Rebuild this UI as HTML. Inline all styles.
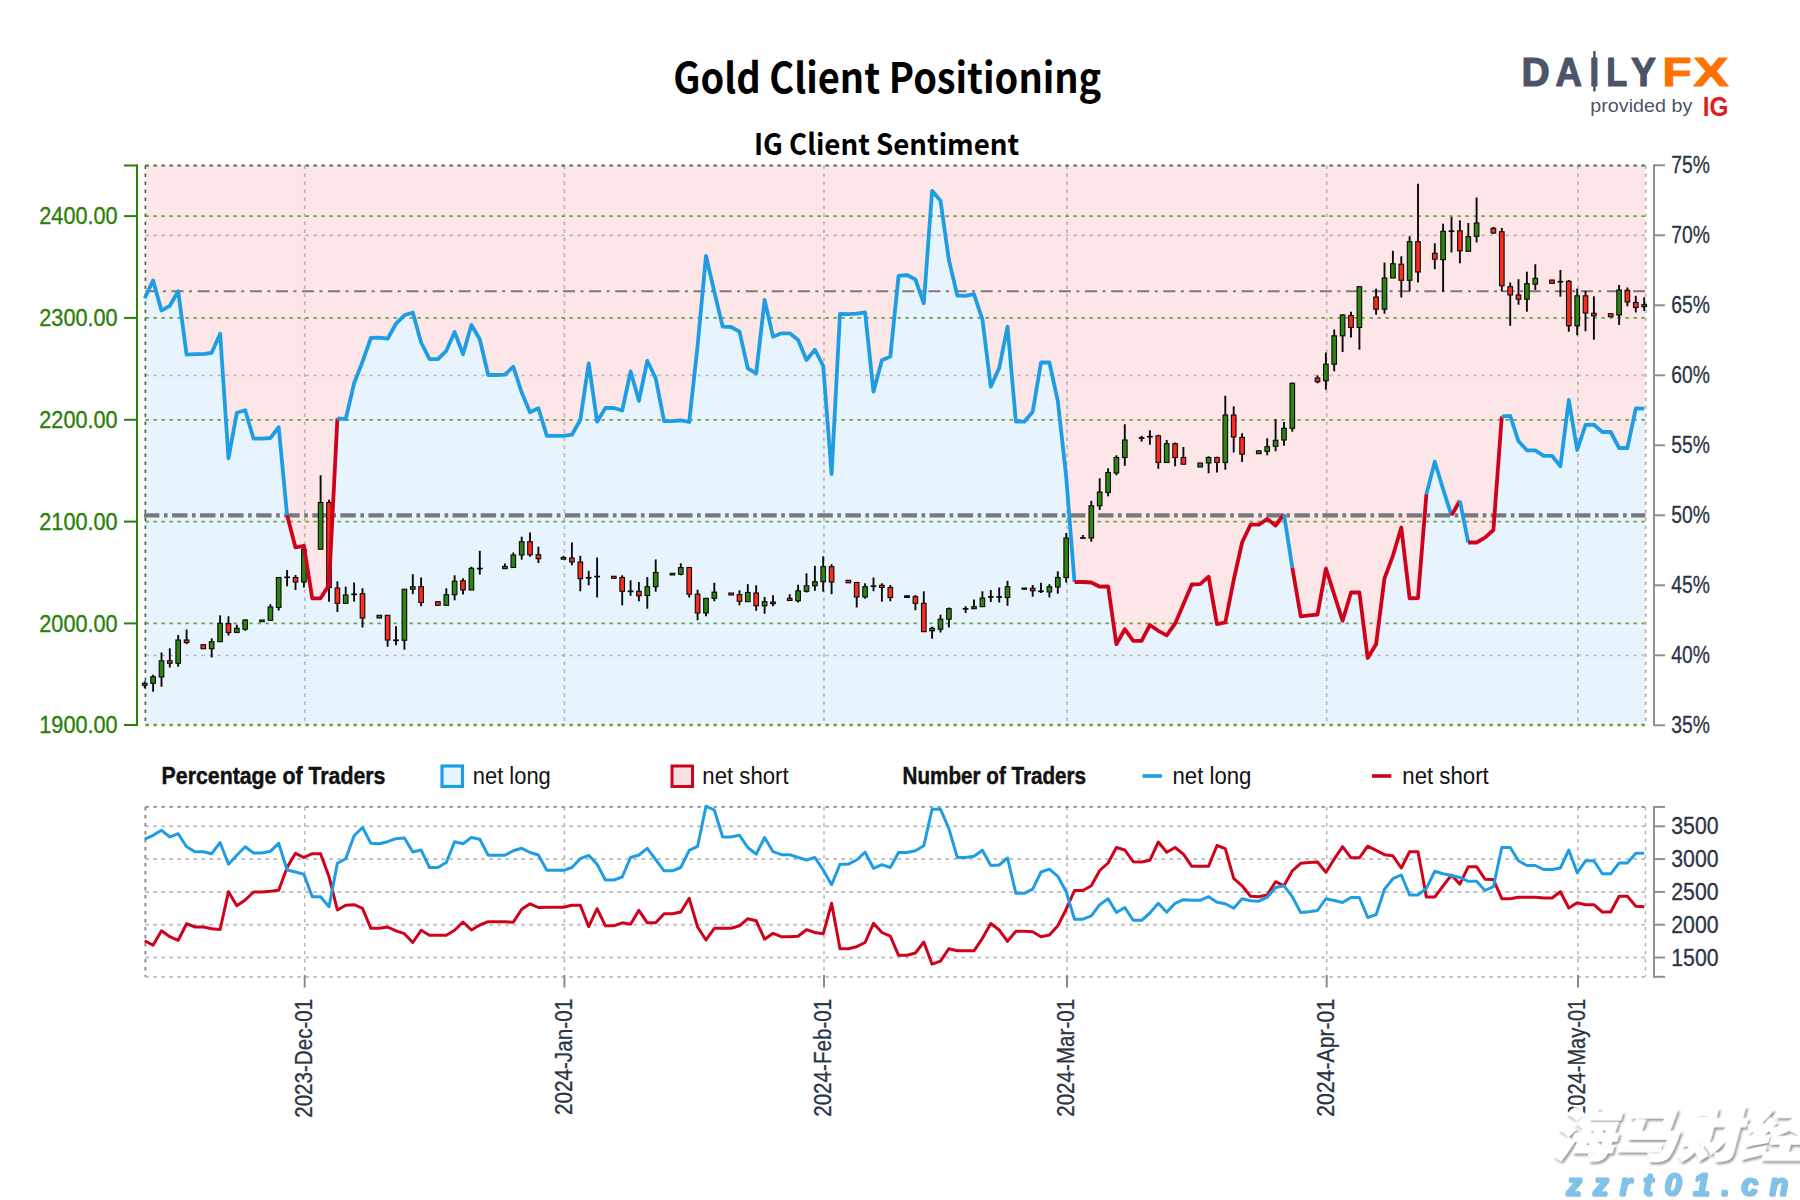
<!DOCTYPE html>
<html lang="en"><head><meta charset="utf-8"><title>Gold Client Positioning</title>
<style>html,body{margin:0;padding:0;background:#fff}body{width:1800px;height:1200px;overflow:hidden}svg{display:block}</style></head><body>
<svg width="1800" height="1200" viewBox="0 0 1800 1200">
<defs><filter id="ws" x="-5%" y="-10%" width="110%" height="125%"><feDropShadow dx="2.2" dy="2.2" stdDeviation="0.9" flood-color="#8a8a8a" flood-opacity="0.9"/></filter>
<filter id="ws2" x="-5%" y="-10%" width="110%" height="130%"><feDropShadow dx="1" dy="1.2" stdDeviation="0.5" flood-color="#7f9fb5" flood-opacity="0.8"/></filter>
<clipPath id="cp"><rect x="145.4" y="165.5" width="1500.0" height="559.5"/></clipPath></defs>
<rect width="1800" height="1200" fill="#fff"/>
<rect x="145.4" y="165.5" width="1499.4" height="559.5" fill="#fce6e7"/>
<polygon fill="#e8f4fd" points="145.4,725.0 145.4,298.3 144.7,298.3 153.1,280.5 161.5,310.5 169.8,305.8 178.2,291.3 186.6,354.7 195.0,354.2 203.3,354.2 211.7,352.8 220.1,333.7 228.5,458.3 236.8,412.8 245.2,410.3 253.6,438.7 262.0,438.7 270.4,438 278.7,427.2 287.1,515.3 295.5,547.5 303.9,545.8 312.2,598.3 320.6,598.3 329.0,585 337.4,418.3 345.7,419.2 354.1,383.3 362.5,361.7 370.9,338 379.3,337.7 387.6,338.7 396.0,323.7 404.4,315.3 412.8,312.5 421.1,342.5 429.5,359 437.9,359.2 446.3,350.8 454.6,332 463.0,354.2 471.4,325 479.8,339.2 488.2,375 496.5,375 504.9,374.7 513.3,366.7 521.7,392.5 530.0,412.2 538.4,408.3 546.8,435.8 555.2,435.8 563.5,435.8 571.9,434.7 580.3,420 588.7,363.3 597.1,421.7 605.4,408 613.8,408 622.2,410.5 630.6,371.3 638.9,400.8 647.3,360.8 655.7,378.3 664.1,421.2 672.5,421.2 680.8,420.3 689.2,422 697.6,345.8 706.0,255.8 714.3,291.7 722.7,326.7 731.1,327 739.5,331.7 747.8,368.3 756.2,373.3 764.6,300 773.0,336.7 781.4,333.3 789.7,333.3 798.1,340 806.5,360 814.9,349.7 823.2,366 831.6,474.2 840.0,313.8 848.4,314.2 856.7,313.7 865.1,312.5 873.5,391.7 881.9,360.2 890.3,356.5 898.6,275.8 907.0,275 915.4,279.5 923.8,303.3 932.1,190.8 940.5,200.8 948.9,260 957.3,295.5 965.6,295.8 974.0,294.2 982.4,319.5 990.8,386.7 999.2,368 1007.5,326.7 1015.9,421.7 1024.3,421.7 1032.7,411.7 1041.0,362.5 1049.4,362.5 1057.8,400.8 1066.2,477 1074.5,582 1082.9,582 1091.3,582.5 1099.7,586.7 1108.1,586.3 1116.4,644.2 1124.8,629.2 1133.2,640.8 1141.6,640.8 1149.9,625 1158.3,630.8 1166.7,635.3 1175.1,623.7 1183.4,604.2 1191.8,584.5 1200.2,584.2 1208.6,576.7 1217.0,624.2 1225.3,622.5 1233.7,580 1242.1,542.5 1250.5,524.7 1258.8,524.7 1267.2,519 1275.6,525.5 1284.0,514.2 1292.3,567.5 1300.7,616.3 1309.1,615.3 1317.5,614.7 1325.9,568.7 1334.2,594.5 1342.6,620.8 1351.0,592.5 1359.4,592.5 1367.7,658 1376.1,644.2 1384.5,578.3 1392.9,555.8 1401.3,527.5 1409.6,598.3 1418.0,598 1426.4,494.2 1434.8,461.7 1443.1,489.2 1451.5,515.4 1459.9,500.8 1468.3,542.5 1476.6,542.5 1485.0,537.7 1493.4,530 1501.8,416.3 1510.2,415.8 1518.5,441.3 1526.9,450.3 1535.3,450.3 1543.7,455.8 1552.0,455.8 1560.4,466.3 1568.8,400 1577.2,450 1585.5,425 1593.9,424.7 1602.3,432 1610.7,432 1619.1,448 1627.4,448 1635.8,408.3 1644.2,408.7 1644.2,725.0"/>
<line x1="304.7" y1="165.5" x2="304.7" y2="725.0" stroke="#8c8487" stroke-width="1.7" stroke-dasharray="3.5 4.5" opacity="0.55"/>
<line x1="564.4" y1="165.5" x2="564.4" y2="725.0" stroke="#8c8487" stroke-width="1.7" stroke-dasharray="3.5 4.5" opacity="0.55"/>
<line x1="824.0" y1="165.5" x2="824.0" y2="725.0" stroke="#8c8487" stroke-width="1.7" stroke-dasharray="3.5 4.5" opacity="0.55"/>
<line x1="1067.0" y1="165.5" x2="1067.0" y2="725.0" stroke="#8c8487" stroke-width="1.7" stroke-dasharray="3.5 4.5" opacity="0.55"/>
<line x1="1326.7" y1="165.5" x2="1326.7" y2="725.0" stroke="#8c8487" stroke-width="1.7" stroke-dasharray="3.5 4.5" opacity="0.55"/>
<line x1="1578.0" y1="165.5" x2="1578.0" y2="725.0" stroke="#8c8487" stroke-width="1.7" stroke-dasharray="3.5 4.5" opacity="0.55"/>
<line x1="145.4" y1="655.3" x2="1645.4" y2="655.3" stroke="#9a9295" stroke-width="1.8" stroke-dasharray="3.5 4.5" opacity="0.55"/>
<line x1="145.4" y1="375.29999999999995" x2="1645.4" y2="375.29999999999995" stroke="#9a9295" stroke-width="1.8" stroke-dasharray="3.5 4.5" opacity="0.55"/>
<line x1="145.4" y1="235.29999999999995" x2="1645.4" y2="235.29999999999995" stroke="#9a9295" stroke-width="1.8" stroke-dasharray="3.5 4.5" opacity="0.55"/>
<line x1="145.4" y1="216.1" x2="1645.4" y2="216.1" stroke="#5f9a38" stroke-width="1.8" stroke-dasharray="3.5 4.5" opacity="0.9"/>
<line x1="145.4" y1="317.9" x2="1645.4" y2="317.9" stroke="#5f9a38" stroke-width="1.8" stroke-dasharray="3.5 4.5" opacity="0.9"/>
<line x1="145.4" y1="419.8" x2="1645.4" y2="419.8" stroke="#5f9a38" stroke-width="1.8" stroke-dasharray="3.5 4.5" opacity="0.9"/>
<line x1="145.4" y1="521.6" x2="1645.4" y2="521.6" stroke="#5f9a38" stroke-width="1.8" stroke-dasharray="3.5 4.5" opacity="0.9"/>
<line x1="145.4" y1="623.4" x2="1645.4" y2="623.4" stroke="#5f9a38" stroke-width="1.8" stroke-dasharray="3.5 4.5" opacity="0.9"/>
<line x1="145.4" y1="725.0" x2="1645.4" y2="725.0" stroke="#5f9a38" stroke-width="2.3" stroke-dasharray="3.5 4.5" opacity="0.95"/>
<line x1="1645.7" y1="165.5" x2="1645.7" y2="725.0" stroke="#b5adaf" stroke-width="2" stroke-dasharray="3.5 4.5" opacity="0.85"/>
<line x1="145.4" y1="165.5" x2="1645.4" y2="165.5" stroke="#47752b" stroke-width="2" stroke-dasharray="3.5 4.5" opacity="1"/>
<line x1="145.4" y1="165.5" x2="145.4" y2="725.0" stroke="#4a6b3e" stroke-width="1.7" stroke-dasharray="3.5 4.5" opacity="1"/>
<line x1="145.4" y1="291.3" x2="1645.4" y2="291.3" stroke="#81777a" stroke-width="2" stroke-dasharray="12 5.5 3 5.6"/>
<line x1="143.9" y1="515.3" x2="1645.4" y2="515.3" stroke="#6f7173" stroke-width="4.2" stroke-dasharray="15.5 4.5 3.7 4.36" opacity="0.93"/>
<g stroke="#0a0a0a">
<line x1="144.7" y1="681.3" x2="144.7" y2="688.3" stroke-width="1.9"/>
<rect x="142.4" y="683.3" width="4.6" height="2.0" fill="#2b8510" stroke-width="1.1"/>
<line x1="153.1" y1="674.7" x2="153.1" y2="691.7" stroke-width="1.9"/>
<rect x="150.8" y="676.7" width="4.6" height="6.6" fill="#2b8510" stroke-width="1.1"/>
<line x1="161.5" y1="652.5" x2="161.5" y2="686.7" stroke-width="1.9"/>
<rect x="159.2" y="660.8" width="4.6" height="16.2" fill="#2b8510" stroke-width="1.1"/>
<line x1="169.8" y1="648.3" x2="169.8" y2="667.5" stroke-width="1.9"/>
<rect x="167.5" y="660.8" width="4.6" height="2.5" fill="#ff2a1c" stroke-width="1.1"/>
<line x1="178.2" y1="635" x2="178.2" y2="666.7" stroke-width="1.9"/>
<rect x="175.9" y="640" width="4.6" height="23.3" fill="#2b8510" stroke-width="1.1"/>
<line x1="186.6" y1="629.5" x2="186.6" y2="644.2" stroke-width="1.9"/>
<rect x="184.3" y="640" width="4.6" height="2.5" fill="#ff2a1c" stroke-width="1.1"/>
<line x1="203.3" y1="644.7" x2="203.3" y2="648.7" stroke-width="1.9"/>
<rect x="201.0" y="644.7" width="4.6" height="4.0" fill="#ff2a1c" stroke-width="1.1"/>
<line x1="211.7" y1="638.3" x2="211.7" y2="657.5" stroke-width="1.9"/>
<rect x="209.4" y="641.7" width="4.6" height="7.0" fill="#2b8510" stroke-width="1.1"/>
<line x1="220.1" y1="615.3" x2="220.1" y2="641.7" stroke-width="1.9"/>
<rect x="217.8" y="623.3" width="4.6" height="18.4" fill="#2b8510" stroke-width="1.1"/>
<line x1="228.5" y1="616.3" x2="228.5" y2="635.5" stroke-width="1.9"/>
<rect x="226.2" y="623.7" width="4.6" height="8.8" fill="#ff2a1c" stroke-width="1.1"/>
<line x1="236.8" y1="624.7" x2="236.8" y2="632.5" stroke-width="1.9"/>
<rect x="234.5" y="628.3" width="4.6" height="4.2" fill="#2b8510" stroke-width="1.1"/>
<line x1="245.2" y1="619.2" x2="245.2" y2="630.8" stroke-width="1.9"/>
<rect x="242.9" y="620" width="4.6" height="9.2" fill="#2b8510" stroke-width="1.1"/>
<line x1="262.0" y1="620" x2="262.0" y2="621.7" stroke-width="1.9"/>
<rect x="259.7" y="620" width="4.6" height="1.7" fill="#2b8510" stroke-width="1.1"/>
<line x1="270.4" y1="604.2" x2="270.4" y2="620.3" stroke-width="1.9"/>
<rect x="268.1" y="607" width="4.6" height="13.3" fill="#2b8510" stroke-width="1.1"/>
<line x1="278.7" y1="577.5" x2="278.7" y2="610.5" stroke-width="1.9"/>
<rect x="276.4" y="577.5" width="4.6" height="30.0" fill="#2b8510" stroke-width="1.1"/>
<line x1="287.1" y1="570" x2="287.1" y2="586.3" stroke-width="1.9"/>
<rect x="284.8" y="577" width="4.6" height="0.6" fill="#1a1a1a" stroke-width="1.1"/>
<line x1="295.5" y1="575" x2="295.5" y2="590" stroke-width="1.9"/>
<rect x="293.2" y="577.5" width="4.6" height="4.5" fill="#ff2a1c" stroke-width="1.1"/>
<line x1="303.9" y1="545" x2="303.9" y2="587.5" stroke-width="1.9"/>
<rect x="301.6" y="549.2" width="4.6" height="32.8" fill="#2b8510" stroke-width="1.1"/>
<line x1="320.6" y1="475.3" x2="320.6" y2="549.2" stroke-width="1.9"/>
<rect x="318.3" y="502.5" width="4.6" height="46.7" fill="#2b8510" stroke-width="1.1"/>
<line x1="329.0" y1="499.7" x2="329.0" y2="601.7" stroke-width="1.9"/>
<rect x="326.7" y="502.5" width="4.6" height="85.0" fill="#ff2a1c" stroke-width="1.1"/>
<line x1="337.4" y1="581.3" x2="337.4" y2="612" stroke-width="1.9"/>
<rect x="335.1" y="588" width="4.6" height="15.3" fill="#ff2a1c" stroke-width="1.1"/>
<line x1="345.7" y1="586.7" x2="345.7" y2="603.3" stroke-width="1.9"/>
<rect x="343.4" y="595" width="4.6" height="8.3" fill="#2b8510" stroke-width="1.1"/>
<line x1="354.1" y1="582.5" x2="354.1" y2="601.7" stroke-width="1.9"/>
<rect x="351.8" y="594" width="4.6" height="0.6" fill="#1a1a1a" stroke-width="1.1"/>
<line x1="362.5" y1="588.3" x2="362.5" y2="627.5" stroke-width="1.9"/>
<rect x="360.2" y="593.7" width="4.6" height="24.3" fill="#ff2a1c" stroke-width="1.1"/>
<line x1="379.3" y1="615.3" x2="379.3" y2="618" stroke-width="1.9"/>
<rect x="377.0" y="615.3" width="4.6" height="2.7" fill="#2b8510" stroke-width="1.1"/>
<line x1="387.6" y1="615.3" x2="387.6" y2="646.7" stroke-width="1.9"/>
<rect x="385.3" y="615.3" width="4.6" height="24.7" fill="#ff2a1c" stroke-width="1.1"/>
<line x1="396.0" y1="626.3" x2="396.0" y2="645.3" stroke-width="1.9"/>
<rect x="393.7" y="640" width="4.6" height="0.6" fill="#1a1a1a" stroke-width="1.1"/>
<line x1="404.4" y1="589.2" x2="404.4" y2="649.7" stroke-width="1.9"/>
<rect x="402.1" y="589.2" width="4.6" height="51.1" fill="#2b8510" stroke-width="1.1"/>
<line x1="412.8" y1="574.2" x2="412.8" y2="594.2" stroke-width="1.9"/>
<rect x="410.5" y="586.7" width="4.6" height="2.5" fill="#2b8510" stroke-width="1.1"/>
<line x1="421.1" y1="577.5" x2="421.1" y2="606.3" stroke-width="1.9"/>
<rect x="418.8" y="586.7" width="4.6" height="15.8" fill="#ff2a1c" stroke-width="1.1"/>
<line x1="437.9" y1="601.7" x2="437.9" y2="605.3" stroke-width="1.9"/>
<rect x="435.6" y="601.7" width="4.6" height="3.6" fill="#ff2a1c" stroke-width="1.1"/>
<line x1="446.3" y1="588.3" x2="446.3" y2="605.3" stroke-width="1.9"/>
<rect x="444.0" y="594.7" width="4.6" height="10.6" fill="#2b8510" stroke-width="1.1"/>
<line x1="454.6" y1="575.3" x2="454.6" y2="600.3" stroke-width="1.9"/>
<rect x="452.3" y="581.2" width="4.6" height="13.5" fill="#2b8510" stroke-width="1.1"/>
<line x1="463.0" y1="578.3" x2="463.0" y2="594.5" stroke-width="1.9"/>
<rect x="460.7" y="580.8" width="4.6" height="9.2" fill="#ff2a1c" stroke-width="1.1"/>
<line x1="471.4" y1="566.7" x2="471.4" y2="590" stroke-width="1.9"/>
<rect x="469.1" y="568.3" width="4.6" height="21.7" fill="#2b8510" stroke-width="1.1"/>
<line x1="479.8" y1="550.8" x2="479.8" y2="574.7" stroke-width="1.9"/>
<rect x="477.5" y="568.3" width="4.6" height="0.6" fill="#1a1a1a" stroke-width="1.1"/>
<line x1="504.9" y1="563.5" x2="504.9" y2="568.7" stroke-width="1.9"/>
<rect x="502.6" y="566.5" width="4.6" height="2.2" fill="#2b8510" stroke-width="1.1"/>
<line x1="513.3" y1="552.5" x2="513.3" y2="567.5" stroke-width="1.9"/>
<rect x="511.0" y="555" width="4.6" height="12.5" fill="#2b8510" stroke-width="1.1"/>
<line x1="521.7" y1="536.7" x2="521.7" y2="559.7" stroke-width="1.9"/>
<rect x="519.4" y="541.7" width="4.6" height="13.3" fill="#2b8510" stroke-width="1.1"/>
<line x1="530.0" y1="532.5" x2="530.0" y2="556.7" stroke-width="1.9"/>
<rect x="527.7" y="541.7" width="4.6" height="13.0" fill="#ff2a1c" stroke-width="1.1"/>
<line x1="538.4" y1="546.7" x2="538.4" y2="563" stroke-width="1.9"/>
<rect x="536.1" y="554.7" width="4.6" height="4.0" fill="#ff2a1c" stroke-width="1.1"/>
<line x1="563.5" y1="555.8" x2="563.5" y2="559.2" stroke-width="1.9"/>
<rect x="561.2" y="557.5" width="4.6" height="1.7" fill="#2b8510" stroke-width="1.1"/>
<line x1="571.9" y1="542.5" x2="571.9" y2="565.3" stroke-width="1.9"/>
<rect x="569.6" y="558" width="4.6" height="4" fill="#ff2a1c" stroke-width="1.1"/>
<line x1="580.3" y1="555.8" x2="580.3" y2="591.3" stroke-width="1.9"/>
<rect x="578.0" y="562" width="4.6" height="16.7" fill="#ff2a1c" stroke-width="1.1"/>
<line x1="588.7" y1="570.8" x2="588.7" y2="585.3" stroke-width="1.9"/>
<rect x="586.4" y="577.5" width="4.6" height="0.6" fill="#1a1a1a" stroke-width="1.1"/>
<line x1="597.1" y1="557.5" x2="597.1" y2="597.5" stroke-width="1.9"/>
<rect x="594.8" y="576.3" width="4.6" height="0.6" fill="#1a1a1a" stroke-width="1.1"/>
<line x1="613.8" y1="576.3" x2="613.8" y2="578.3" stroke-width="1.9"/>
<rect x="611.5" y="576.3" width="4.6" height="2.0" fill="#ff2a1c" stroke-width="1.1"/>
<line x1="622.2" y1="575.3" x2="622.2" y2="605.3" stroke-width="1.9"/>
<rect x="619.9" y="577.5" width="4.6" height="13.8" fill="#ff2a1c" stroke-width="1.1"/>
<line x1="630.6" y1="580.3" x2="630.6" y2="595.8" stroke-width="1.9"/>
<rect x="628.3" y="591" width="4.6" height="0.6" fill="#1a1a1a" stroke-width="1.1"/>
<line x1="638.9" y1="582" x2="638.9" y2="601.3" stroke-width="1.9"/>
<rect x="636.6" y="591.3" width="4.6" height="4.5" fill="#ff2a1c" stroke-width="1.1"/>
<line x1="647.3" y1="577" x2="647.3" y2="608.7" stroke-width="1.9"/>
<rect x="645.0" y="586.7" width="4.6" height="8.8" fill="#2b8510" stroke-width="1.1"/>
<line x1="655.7" y1="559.5" x2="655.7" y2="591.7" stroke-width="1.9"/>
<rect x="653.4" y="572.5" width="4.6" height="14.2" fill="#2b8510" stroke-width="1.1"/>
<line x1="672.5" y1="573.3" x2="672.5" y2="575" stroke-width="1.9"/>
<rect x="670.2" y="573.3" width="4.6" height="1.7" fill="#2b8510" stroke-width="1.1"/>
<line x1="680.8" y1="563.3" x2="680.8" y2="575.3" stroke-width="1.9"/>
<rect x="678.5" y="567.5" width="4.6" height="6.7" fill="#2b8510" stroke-width="1.1"/>
<line x1="689.2" y1="567.5" x2="689.2" y2="597.5" stroke-width="1.9"/>
<rect x="686.9" y="567.5" width="4.6" height="26.7" fill="#ff2a1c" stroke-width="1.1"/>
<line x1="697.6" y1="589.7" x2="697.6" y2="620.3" stroke-width="1.9"/>
<rect x="695.3" y="594.2" width="4.6" height="18.8" fill="#ff2a1c" stroke-width="1.1"/>
<line x1="706.0" y1="598.3" x2="706.0" y2="616.3" stroke-width="1.9"/>
<rect x="703.7" y="598.3" width="4.6" height="14.7" fill="#2b8510" stroke-width="1.1"/>
<line x1="714.3" y1="582.8" x2="714.3" y2="601.3" stroke-width="1.9"/>
<rect x="712.0" y="592.2" width="4.6" height="6.1" fill="#2b8510" stroke-width="1.1"/>
<line x1="731.1" y1="593" x2="731.1" y2="595" stroke-width="1.9"/>
<rect x="728.8" y="593" width="4.6" height="2" fill="#ff2a1c" stroke-width="1.1"/>
<line x1="739.5" y1="590.3" x2="739.5" y2="605.3" stroke-width="1.9"/>
<rect x="737.2" y="594.7" width="4.6" height="6.6" fill="#ff2a1c" stroke-width="1.1"/>
<line x1="747.8" y1="584.2" x2="747.8" y2="601.7" stroke-width="1.9"/>
<rect x="745.5" y="592.5" width="4.6" height="9.2" fill="#2b8510" stroke-width="1.1"/>
<line x1="756.2" y1="585.3" x2="756.2" y2="610.8" stroke-width="1.9"/>
<rect x="753.9" y="593" width="4.6" height="12.8" fill="#ff2a1c" stroke-width="1.1"/>
<line x1="764.6" y1="597" x2="764.6" y2="613.7" stroke-width="1.9"/>
<rect x="762.3" y="601.7" width="4.6" height="4.1" fill="#2b8510" stroke-width="1.1"/>
<line x1="773.0" y1="595.3" x2="773.0" y2="606.2" stroke-width="1.9"/>
<rect x="770.7" y="602" width="4.6" height="1.7" fill="#ff2a1c" stroke-width="1.1"/>
<line x1="789.7" y1="594.2" x2="789.7" y2="600.5" stroke-width="1.9"/>
<rect x="787.4" y="598.3" width="4.6" height="2.2" fill="#ff2a1c" stroke-width="1.1"/>
<line x1="798.1" y1="584.7" x2="798.1" y2="602.5" stroke-width="1.9"/>
<rect x="795.8" y="590.8" width="4.6" height="10.0" fill="#2b8510" stroke-width="1.1"/>
<line x1="806.5" y1="573.3" x2="806.5" y2="592.5" stroke-width="1.9"/>
<rect x="804.2" y="585.8" width="4.6" height="5.5" fill="#2b8510" stroke-width="1.1"/>
<line x1="814.9" y1="565.8" x2="814.9" y2="590.8" stroke-width="1.9"/>
<rect x="812.6" y="581.7" width="4.6" height="4.1" fill="#2b8510" stroke-width="1.1"/>
<line x1="823.2" y1="556.3" x2="823.2" y2="591.7" stroke-width="1.9"/>
<rect x="820.9" y="566.7" width="4.6" height="15.0" fill="#2b8510" stroke-width="1.1"/>
<line x1="831.6" y1="564.2" x2="831.6" y2="594.2" stroke-width="1.9"/>
<rect x="829.3" y="566.7" width="4.6" height="15.3" fill="#ff2a1c" stroke-width="1.1"/>
<line x1="848.4" y1="580.3" x2="848.4" y2="582.8" stroke-width="1.9"/>
<rect x="846.1" y="580.3" width="4.6" height="2.5" fill="#ff2a1c" stroke-width="1.1"/>
<line x1="856.7" y1="582.5" x2="856.7" y2="607.5" stroke-width="1.9"/>
<rect x="854.4" y="582.5" width="4.6" height="14.5" fill="#ff2a1c" stroke-width="1.1"/>
<line x1="865.1" y1="583.3" x2="865.1" y2="598.7" stroke-width="1.9"/>
<rect x="862.8" y="586.7" width="4.6" height="10.3" fill="#2b8510" stroke-width="1.1"/>
<line x1="873.5" y1="577.5" x2="873.5" y2="591.2" stroke-width="1.9"/>
<rect x="871.2" y="585.9" width="4.6" height="0.6" fill="#1a1a1a" stroke-width="1.1"/>
<line x1="881.9" y1="583.3" x2="881.9" y2="601.7" stroke-width="1.9"/>
<rect x="879.6" y="585.3" width="4.6" height="2.2" fill="#ff2a1c" stroke-width="1.1"/>
<line x1="890.3" y1="585" x2="890.3" y2="601.3" stroke-width="1.9"/>
<rect x="888.0" y="587.5" width="4.6" height="10.0" fill="#ff2a1c" stroke-width="1.1"/>
<line x1="907.0" y1="595.8" x2="907.0" y2="597.5" stroke-width="1.9"/>
<rect x="904.7" y="595.8" width="4.6" height="1.7" fill="#1a1a1a" stroke-width="1.1"/>
<line x1="915.4" y1="595" x2="915.4" y2="610.3" stroke-width="1.9"/>
<rect x="913.1" y="596.7" width="4.6" height="6.6" fill="#ff2a1c" stroke-width="1.1"/>
<line x1="923.8" y1="591.3" x2="923.8" y2="631.7" stroke-width="1.9"/>
<rect x="921.5" y="603.3" width="4.6" height="28.4" fill="#ff2a1c" stroke-width="1.1"/>
<line x1="932.1" y1="626.7" x2="932.1" y2="638.7" stroke-width="1.9"/>
<rect x="929.8" y="628.3" width="4.6" height="2.5" fill="#2b8510" stroke-width="1.1"/>
<line x1="940.5" y1="614.7" x2="940.5" y2="632.5" stroke-width="1.9"/>
<rect x="938.2" y="619.2" width="4.6" height="10.0" fill="#2b8510" stroke-width="1.1"/>
<line x1="948.9" y1="607.5" x2="948.9" y2="627.5" stroke-width="1.9"/>
<rect x="946.6" y="608.7" width="4.6" height="10.5" fill="#2b8510" stroke-width="1.1"/>
<line x1="965.6" y1="606.2" x2="965.6" y2="613" stroke-width="1.9"/>
<rect x="963.3" y="608.5" width="4.6" height="0.6" fill="#1a1a1a" stroke-width="1.1"/>
<line x1="974.0" y1="599.5" x2="974.0" y2="608.7" stroke-width="1.9"/>
<rect x="971.7" y="606.7" width="4.6" height="2.0" fill="#2b8510" stroke-width="1.1"/>
<line x1="982.4" y1="591.3" x2="982.4" y2="606.7" stroke-width="1.9"/>
<rect x="980.1" y="598" width="4.6" height="8.7" fill="#2b8510" stroke-width="1.1"/>
<line x1="990.8" y1="590" x2="990.8" y2="602" stroke-width="1.9"/>
<rect x="988.5" y="596.7" width="4.6" height="0.6" fill="#1a1a1a" stroke-width="1.1"/>
<line x1="999.2" y1="587.5" x2="999.2" y2="602.5" stroke-width="1.9"/>
<rect x="996.9" y="596.7" width="4.6" height="0.6" fill="#1a1a1a" stroke-width="1.1"/>
<line x1="1007.5" y1="580.8" x2="1007.5" y2="605.8" stroke-width="1.9"/>
<rect x="1005.2" y="586.7" width="4.6" height="10.8" fill="#2b8510" stroke-width="1.1"/>
<line x1="1024.3" y1="588" x2="1024.3" y2="589.2" stroke-width="1.9"/>
<rect x="1022.0" y="588" width="4.6" height="1.2" fill="#1a1a1a" stroke-width="1.1"/>
<line x1="1032.7" y1="585" x2="1032.7" y2="596.7" stroke-width="1.9"/>
<rect x="1030.4" y="588.3" width="4.6" height="2.5" fill="#ff2a1c" stroke-width="1.1"/>
<line x1="1041.0" y1="582.8" x2="1041.0" y2="593" stroke-width="1.9"/>
<rect x="1038.7" y="591" width="4.6" height="0.6" fill="#1a1a1a" stroke-width="1.1"/>
<line x1="1049.4" y1="584.2" x2="1049.4" y2="597.5" stroke-width="1.9"/>
<rect x="1047.1" y="586.7" width="4.6" height="5.3" fill="#2b8510" stroke-width="1.1"/>
<line x1="1057.8" y1="571.3" x2="1057.8" y2="593.7" stroke-width="1.9"/>
<rect x="1055.5" y="577.5" width="4.6" height="9.5" fill="#2b8510" stroke-width="1.1"/>
<line x1="1066.2" y1="533" x2="1066.2" y2="582.5" stroke-width="1.9"/>
<rect x="1063.9" y="538" width="4.6" height="39.5" fill="#2b8510" stroke-width="1.1"/>
<line x1="1082.9" y1="535" x2="1082.9" y2="538.7" stroke-width="1.9"/>
<rect x="1080.6" y="537.7" width="4.6" height="0.6" fill="#1a1a1a" stroke-width="1.1"/>
<line x1="1091.3" y1="500.8" x2="1091.3" y2="541.7" stroke-width="1.9"/>
<rect x="1089.0" y="505.8" width="4.6" height="32.2" fill="#2b8510" stroke-width="1.1"/>
<line x1="1099.7" y1="478.3" x2="1099.7" y2="510" stroke-width="1.9"/>
<rect x="1097.4" y="492" width="4.6" height="13.8" fill="#2b8510" stroke-width="1.1"/>
<line x1="1108.1" y1="468.3" x2="1108.1" y2="496.3" stroke-width="1.9"/>
<rect x="1105.8" y="472.5" width="4.6" height="20.0" fill="#2b8510" stroke-width="1.1"/>
<line x1="1116.4" y1="455.3" x2="1116.4" y2="475.3" stroke-width="1.9"/>
<rect x="1114.1" y="457.5" width="4.6" height="15.5" fill="#2b8510" stroke-width="1.1"/>
<line x1="1124.8" y1="424.2" x2="1124.8" y2="465.8" stroke-width="1.9"/>
<rect x="1122.5" y="440" width="4.6" height="17.5" fill="#2b8510" stroke-width="1.1"/>
<line x1="1141.6" y1="435.8" x2="1141.6" y2="441.7" stroke-width="1.9"/>
<rect x="1139.3" y="437.7" width="4.6" height="0.6" fill="#1a1a1a" stroke-width="1.1"/>
<line x1="1149.9" y1="430.3" x2="1149.9" y2="444.7" stroke-width="1.9"/>
<rect x="1147.6" y="436.4" width="4.6" height="0.6" fill="#1a1a1a" stroke-width="1.1"/>
<line x1="1158.3" y1="434.7" x2="1158.3" y2="468.7" stroke-width="1.9"/>
<rect x="1156.0" y="435.8" width="4.6" height="26.7" fill="#ff2a1c" stroke-width="1.1"/>
<line x1="1166.7" y1="440" x2="1166.7" y2="462.5" stroke-width="1.9"/>
<rect x="1164.4" y="443.7" width="4.6" height="18.8" fill="#2b8510" stroke-width="1.1"/>
<line x1="1175.1" y1="442.5" x2="1175.1" y2="466.3" stroke-width="1.9"/>
<rect x="1172.8" y="443.7" width="4.6" height="13.8" fill="#ff2a1c" stroke-width="1.1"/>
<line x1="1183.4" y1="447" x2="1183.4" y2="464.2" stroke-width="1.9"/>
<rect x="1181.1" y="457.5" width="4.6" height="6.7" fill="#ff2a1c" stroke-width="1.1"/>
<line x1="1200.2" y1="463" x2="1200.2" y2="467" stroke-width="1.9"/>
<rect x="1197.9" y="463" width="4.6" height="4" fill="#2b8510" stroke-width="1.1"/>
<line x1="1208.6" y1="456.3" x2="1208.6" y2="473.3" stroke-width="1.9"/>
<rect x="1206.3" y="457.5" width="4.6" height="5.5" fill="#2b8510" stroke-width="1.1"/>
<line x1="1217.0" y1="456.7" x2="1217.0" y2="472.5" stroke-width="1.9"/>
<rect x="1214.7" y="457.5" width="4.6" height="5.0" fill="#ff2a1c" stroke-width="1.1"/>
<line x1="1225.3" y1="395.8" x2="1225.3" y2="469.7" stroke-width="1.9"/>
<rect x="1223.0" y="415" width="4.6" height="47.5" fill="#2b8510" stroke-width="1.1"/>
<line x1="1233.7" y1="406.3" x2="1233.7" y2="452.5" stroke-width="1.9"/>
<rect x="1231.4" y="415" width="4.6" height="22" fill="#ff2a1c" stroke-width="1.1"/>
<line x1="1242.1" y1="433.3" x2="1242.1" y2="462" stroke-width="1.9"/>
<rect x="1239.8" y="437.5" width="4.6" height="16.7" fill="#ff2a1c" stroke-width="1.1"/>
<line x1="1258.8" y1="450.8" x2="1258.8" y2="453.7" stroke-width="1.9"/>
<rect x="1256.5" y="450.8" width="4.6" height="2.9" fill="#2b8510" stroke-width="1.1"/>
<line x1="1267.2" y1="438.3" x2="1267.2" y2="455.3" stroke-width="1.9"/>
<rect x="1264.9" y="446.7" width="4.6" height="4.6" fill="#2b8510" stroke-width="1.1"/>
<line x1="1275.6" y1="419.2" x2="1275.6" y2="451.3" stroke-width="1.9"/>
<rect x="1273.3" y="440.3" width="4.6" height="6.0" fill="#2b8510" stroke-width="1.1"/>
<line x1="1284.0" y1="422" x2="1284.0" y2="445.8" stroke-width="1.9"/>
<rect x="1281.7" y="428.3" width="4.6" height="11.7" fill="#2b8510" stroke-width="1.1"/>
<line x1="1292.3" y1="382.5" x2="1292.3" y2="431.7" stroke-width="1.9"/>
<rect x="1290.0" y="383.3" width="4.6" height="45.0" fill="#2b8510" stroke-width="1.1"/>
<line x1="1317.5" y1="375.3" x2="1317.5" y2="383.3" stroke-width="1.9"/>
<rect x="1315.2" y="378" width="4.6" height="3.7" fill="#ff2a1c" stroke-width="1.1"/>
<line x1="1325.9" y1="352.5" x2="1325.9" y2="389.7" stroke-width="1.9"/>
<rect x="1323.6" y="364.2" width="4.6" height="16.6" fill="#2b8510" stroke-width="1.1"/>
<line x1="1334.2" y1="329.5" x2="1334.2" y2="371.3" stroke-width="1.9"/>
<rect x="1331.9" y="335.8" width="4.6" height="28.4" fill="#2b8510" stroke-width="1.1"/>
<line x1="1342.6" y1="314.2" x2="1342.6" y2="352" stroke-width="1.9"/>
<rect x="1340.3" y="315" width="4.6" height="20.8" fill="#2b8510" stroke-width="1.1"/>
<line x1="1351.0" y1="311.7" x2="1351.0" y2="337.5" stroke-width="1.9"/>
<rect x="1348.7" y="315.5" width="4.6" height="12.0" fill="#ff2a1c" stroke-width="1.1"/>
<line x1="1359.4" y1="286.3" x2="1359.4" y2="349.7" stroke-width="1.9"/>
<rect x="1357.1" y="286.7" width="4.6" height="40.8" fill="#2b8510" stroke-width="1.1"/>
<line x1="1376.1" y1="288.7" x2="1376.1" y2="314.7" stroke-width="1.9"/>
<rect x="1373.8" y="297" width="4.6" height="12.2" fill="#ff2a1c" stroke-width="1.1"/>
<line x1="1384.5" y1="262.5" x2="1384.5" y2="313.7" stroke-width="1.9"/>
<rect x="1382.2" y="278" width="4.6" height="31.2" fill="#2b8510" stroke-width="1.1"/>
<line x1="1392.9" y1="250.8" x2="1392.9" y2="278" stroke-width="1.9"/>
<rect x="1390.6" y="263.7" width="4.6" height="14.3" fill="#2b8510" stroke-width="1.1"/>
<line x1="1401.3" y1="256.3" x2="1401.3" y2="297.5" stroke-width="1.9"/>
<rect x="1399.0" y="264.2" width="4.6" height="16.1" fill="#ff2a1c" stroke-width="1.1"/>
<line x1="1409.6" y1="236.3" x2="1409.6" y2="291.3" stroke-width="1.9"/>
<rect x="1407.3" y="241.7" width="4.6" height="38.6" fill="#2b8510" stroke-width="1.1"/>
<line x1="1418.0" y1="183.7" x2="1418.0" y2="282.5" stroke-width="1.9"/>
<rect x="1415.7" y="241.7" width="4.6" height="30.3" fill="#ff2a1c" stroke-width="1.1"/>
<line x1="1434.8" y1="243.3" x2="1434.8" y2="269.2" stroke-width="1.9"/>
<rect x="1432.5" y="253.3" width="4.6" height="5.9" fill="#ff2a1c" stroke-width="1.1"/>
<line x1="1443.1" y1="223.7" x2="1443.1" y2="291.7" stroke-width="1.9"/>
<rect x="1440.8" y="231.3" width="4.6" height="28.4" fill="#2b8510" stroke-width="1.1"/>
<line x1="1451.5" y1="217" x2="1451.5" y2="252.5" stroke-width="1.9"/>
<rect x="1449.2" y="230.9" width="4.6" height="0.6" fill="#1a1a1a" stroke-width="1.1"/>
<line x1="1459.9" y1="220.3" x2="1459.9" y2="263.3" stroke-width="1.9"/>
<rect x="1457.6" y="230.8" width="4.6" height="20.0" fill="#ff2a1c" stroke-width="1.1"/>
<line x1="1468.3" y1="223" x2="1468.3" y2="251.3" stroke-width="1.9"/>
<rect x="1466.0" y="236.7" width="4.6" height="14.6" fill="#2b8510" stroke-width="1.1"/>
<line x1="1476.6" y1="197.5" x2="1476.6" y2="242.5" stroke-width="1.9"/>
<rect x="1474.3" y="223" width="4.6" height="13.3" fill="#2b8510" stroke-width="1.1"/>
<line x1="1493.4" y1="227" x2="1493.4" y2="234" stroke-width="1.9"/>
<rect x="1491.1" y="228.3" width="4.6" height="4.7" fill="#ff2a1c" stroke-width="1.1"/>
<line x1="1501.8" y1="228" x2="1501.8" y2="291.7" stroke-width="1.9"/>
<rect x="1499.5" y="231.7" width="4.6" height="54.1" fill="#ff2a1c" stroke-width="1.1"/>
<line x1="1510.2" y1="282.5" x2="1510.2" y2="325.8" stroke-width="1.9"/>
<rect x="1507.9" y="286.7" width="4.6" height="8.3" fill="#ff2a1c" stroke-width="1.1"/>
<line x1="1518.5" y1="279.2" x2="1518.5" y2="304.7" stroke-width="1.9"/>
<rect x="1516.2" y="295" width="4.6" height="4.2" fill="#ff2a1c" stroke-width="1.1"/>
<line x1="1526.9" y1="271.7" x2="1526.9" y2="311.7" stroke-width="1.9"/>
<rect x="1524.6" y="283.7" width="4.6" height="15.5" fill="#2b8510" stroke-width="1.1"/>
<line x1="1535.3" y1="264.2" x2="1535.3" y2="290" stroke-width="1.9"/>
<rect x="1533.0" y="278.3" width="4.6" height="5.9" fill="#2b8510" stroke-width="1.1"/>
<line x1="1552.0" y1="280" x2="1552.0" y2="283.3" stroke-width="1.9"/>
<rect x="1549.7" y="280" width="4.6" height="3.3" fill="#ff2a1c" stroke-width="1.1"/>
<line x1="1560.4" y1="270" x2="1560.4" y2="296.7" stroke-width="1.9"/>
<rect x="1558.1" y="281.4" width="4.6" height="0.6" fill="#1a1a1a" stroke-width="1.1"/>
<line x1="1568.8" y1="280" x2="1568.8" y2="331.7" stroke-width="1.9"/>
<rect x="1566.5" y="281.3" width="4.6" height="44.5" fill="#ff2a1c" stroke-width="1.1"/>
<line x1="1577.2" y1="288.7" x2="1577.2" y2="335.3" stroke-width="1.9"/>
<rect x="1574.9" y="295.8" width="4.6" height="30.0" fill="#2b8510" stroke-width="1.1"/>
<line x1="1585.5" y1="290.8" x2="1585.5" y2="331.3" stroke-width="1.9"/>
<rect x="1583.2" y="295.8" width="4.6" height="17.2" fill="#ff2a1c" stroke-width="1.1"/>
<line x1="1593.9" y1="296.3" x2="1593.9" y2="339.7" stroke-width="1.9"/>
<rect x="1591.6" y="313.3" width="4.6" height="2.5" fill="#ff2a1c" stroke-width="1.1"/>
<line x1="1610.7" y1="313.7" x2="1610.7" y2="316.7" stroke-width="1.9"/>
<rect x="1608.4" y="313.7" width="4.6" height="3.0" fill="#ff2a1c" stroke-width="1.1"/>
<line x1="1619.1" y1="285" x2="1619.1" y2="325" stroke-width="1.9"/>
<rect x="1616.8" y="290" width="4.6" height="25" fill="#2b8510" stroke-width="1.1"/>
<line x1="1627.4" y1="287.5" x2="1627.4" y2="306.3" stroke-width="1.9"/>
<rect x="1625.1" y="290.3" width="4.6" height="11.7" fill="#ff2a1c" stroke-width="1.1"/>
<line x1="1635.8" y1="295.8" x2="1635.8" y2="312.5" stroke-width="1.9"/>
<rect x="1633.5" y="302.5" width="4.6" height="5.0" fill="#ff2a1c" stroke-width="1.1"/>
<line x1="1644.2" y1="297.3" x2="1644.2" y2="311" stroke-width="1.9"/>
<rect x="1641.9" y="304.7" width="4.6" height="2.0" fill="#2b8510" stroke-width="1.1"/>
</g>
<polyline fill="none" stroke="#1f9de3" stroke-width="3.8" stroke-linejoin="round" stroke-linecap="butt" points="144.7,298.3 153.1,280.5 161.5,310.5 169.8,305.8 178.2,291.3 186.6,354.7 195.0,354.2 203.3,354.2 211.7,352.8 220.1,333.7 228.5,458.3 236.8,412.8 245.2,410.3 253.6,438.7 262.0,438.7 270.4,438 278.7,427.2 287.1,515.3"/>
<polyline fill="none" stroke="#d0021b" stroke-width="3.8" stroke-linejoin="round" stroke-linecap="butt" points="287.1,515.3 295.5,547.5 303.9,545.8 312.2,598.3 320.6,598.3 329.0,585 337.4,418.3"/>
<polyline fill="none" stroke="#1f9de3" stroke-width="3.8" stroke-linejoin="round" stroke-linecap="butt" points="337.4,418.3 345.7,419.2 354.1,383.3 362.5,361.7 370.9,338 379.3,337.7 387.6,338.7 396.0,323.7 404.4,315.3 412.8,312.5 421.1,342.5 429.5,359 437.9,359.2 446.3,350.8 454.6,332 463.0,354.2 471.4,325 479.8,339.2 488.2,375 496.5,375 504.9,374.7 513.3,366.7 521.7,392.5 530.0,412.2 538.4,408.3 546.8,435.8 555.2,435.8 563.5,435.8 571.9,434.7 580.3,420 588.7,363.3 597.1,421.7 605.4,408 613.8,408 622.2,410.5 630.6,371.3 638.9,400.8 647.3,360.8 655.7,378.3 664.1,421.2 672.5,421.2 680.8,420.3 689.2,422 697.6,345.8 706.0,255.8 714.3,291.7 722.7,326.7 731.1,327 739.5,331.7 747.8,368.3 756.2,373.3 764.6,300 773.0,336.7 781.4,333.3 789.7,333.3 798.1,340 806.5,360 814.9,349.7 823.2,366 831.6,474.2 840.0,313.8 848.4,314.2 856.7,313.7 865.1,312.5 873.5,391.7 881.9,360.2 890.3,356.5 898.6,275.8 907.0,275 915.4,279.5 923.8,303.3 932.1,190.8 940.5,200.8 948.9,260 957.3,295.5 965.6,295.8 974.0,294.2 982.4,319.5 990.8,386.7 999.2,368 1007.5,326.7 1015.9,421.7 1024.3,421.7 1032.7,411.7 1041.0,362.5 1049.4,362.5 1057.8,400.8 1066.2,477 1074.5,582"/>
<polyline fill="none" stroke="#d0021b" stroke-width="3.8" stroke-linejoin="round" stroke-linecap="butt" points="1074.5,582 1082.9,582 1091.3,582.5 1099.7,586.7 1108.1,586.3 1116.4,644.2 1124.8,629.2 1133.2,640.8 1141.6,640.8 1149.9,625 1158.3,630.8 1166.7,635.3 1175.1,623.7 1183.4,604.2 1191.8,584.5 1200.2,584.2 1208.6,576.7 1217.0,624.2 1225.3,622.5 1233.7,580 1242.1,542.5 1250.5,524.7 1258.8,524.7 1267.2,519 1275.6,525.5 1284.0,514.2"/>
<polyline fill="none" stroke="#1f9de3" stroke-width="3.8" stroke-linejoin="round" stroke-linecap="butt" points="1284.0,514.2 1292.3,567.5"/>
<polyline fill="none" stroke="#d0021b" stroke-width="3.8" stroke-linejoin="round" stroke-linecap="butt" points="1292.3,567.5 1300.7,616.3 1309.1,615.3 1317.5,614.7 1325.9,568.7 1334.2,594.5 1342.6,620.8 1351.0,592.5 1359.4,592.5 1367.7,658 1376.1,644.2 1384.5,578.3 1392.9,555.8 1401.3,527.5 1409.6,598.3 1418.0,598 1426.4,494.2"/>
<polyline fill="none" stroke="#1f9de3" stroke-width="3.8" stroke-linejoin="round" stroke-linecap="butt" points="1426.4,494.2 1434.8,461.7 1443.1,489.2 1451.5,515.4"/>
<polyline fill="none" stroke="#d0021b" stroke-width="3.8" stroke-linejoin="round" stroke-linecap="butt" points="1451.5,515.4 1459.9,500.8"/>
<polyline fill="none" stroke="#1f9de3" stroke-width="3.8" stroke-linejoin="round" stroke-linecap="butt" points="1459.9,500.8 1468.3,542.5"/>
<polyline fill="none" stroke="#d0021b" stroke-width="3.8" stroke-linejoin="round" stroke-linecap="butt" points="1468.3,542.5 1476.6,542.5 1485.0,537.7 1493.4,530 1501.8,416.3"/>
<polyline fill="none" stroke="#1f9de3" stroke-width="3.8" stroke-linejoin="round" stroke-linecap="butt" points="1501.8,416.3 1510.2,415.8 1518.5,441.3 1526.9,450.3 1535.3,450.3 1543.7,455.8 1552.0,455.8 1560.4,466.3 1568.8,400 1577.2,450 1585.5,425 1593.9,424.7 1602.3,432 1610.7,432 1619.1,448 1627.4,448 1635.8,408.3 1644.2,408.7"/>
<g stroke="#2b8008" stroke-width="2" fill="none"><line x1="137" y1="164.5" x2="137" y2="726"/>
<line x1="124" y1="165.5" x2="137" y2="165.5"/>
<line x1="124" y1="216.1" x2="137" y2="216.1"/>
<line x1="124" y1="317.9" x2="137" y2="317.9"/>
<line x1="124" y1="419.8" x2="137" y2="419.8"/>
<line x1="124" y1="521.6" x2="137" y2="521.6"/>
<line x1="124" y1="623.4" x2="137" y2="623.4"/>
<line x1="124" y1="725" x2="137" y2="725"/>
</g>
<g font-family="Liberation Sans, Arial, Helvetica, sans-serif" font-size="23.5" fill="#2b8008" stroke="#2b8008" stroke-width="0.35" text-anchor="end">
<text x="117.6" y="224.2" textLength="78.3" lengthAdjust="spacingAndGlyphs">2400.00</text>
<text x="117.6" y="326.0" textLength="78.3" lengthAdjust="spacingAndGlyphs">2300.00</text>
<text x="117.6" y="427.9" textLength="78.3" lengthAdjust="spacingAndGlyphs">2200.00</text>
<text x="117.6" y="529.7" textLength="78.3" lengthAdjust="spacingAndGlyphs">2100.00</text>
<text x="117.6" y="631.5" textLength="78.3" lengthAdjust="spacingAndGlyphs">2000.00</text>
<text x="117.6" y="733.1" textLength="78.3" lengthAdjust="spacingAndGlyphs">1900.00</text>
</g>
<g stroke="#8f8f8f" stroke-width="2" fill="none"><line x1="1654" y1="164.5" x2="1654" y2="726"/>
<line x1="1654" y1="725.3" x2="1665" y2="725.3"/>
<line x1="1654" y1="655.3" x2="1665" y2="655.3"/>
<line x1="1654" y1="585.3" x2="1665" y2="585.3"/>
<line x1="1654" y1="515.3" x2="1665" y2="515.3"/>
<line x1="1654" y1="445.3" x2="1665" y2="445.3"/>
<line x1="1654" y1="375.3" x2="1665" y2="375.3"/>
<line x1="1654" y1="305.3" x2="1665" y2="305.3"/>
<line x1="1654" y1="235.3" x2="1665" y2="235.3"/>
<line x1="1654" y1="165.3" x2="1665" y2="165.3"/>
</g>
<g font-family="Liberation Sans, Arial, Helvetica, sans-serif" font-size="23.5" fill="#2a3446" stroke="#2a3446" stroke-width="0.3">
<text x="1671.3" y="733.4" textLength="38.6" lengthAdjust="spacingAndGlyphs">35%</text>
<text x="1671.3" y="663.4" textLength="38.6" lengthAdjust="spacingAndGlyphs">40%</text>
<text x="1671.3" y="593.4" textLength="38.6" lengthAdjust="spacingAndGlyphs">45%</text>
<text x="1671.3" y="523.4" textLength="38.6" lengthAdjust="spacingAndGlyphs">50%</text>
<text x="1671.3" y="453.4" textLength="38.6" lengthAdjust="spacingAndGlyphs">55%</text>
<text x="1671.3" y="383.4" textLength="38.6" lengthAdjust="spacingAndGlyphs">60%</text>
<text x="1671.3" y="313.4" textLength="38.6" lengthAdjust="spacingAndGlyphs">65%</text>
<text x="1671.3" y="243.4" textLength="38.6" lengthAdjust="spacingAndGlyphs">70%</text>
<text x="1671.3" y="173.4" textLength="38.6" lengthAdjust="spacingAndGlyphs">75%</text>
</g>
<g font-family="Liberation Sans, Arial, Helvetica, sans-serif" font-size="23" fill="#111">
<text x="161.6" y="784" font-weight="bold" stroke="#111" stroke-width="0.45" textLength="223.8" lengthAdjust="spacingAndGlyphs">Percentage of Traders</text>
<rect x="442" y="766" width="20.5" height="20.5" fill="#e8f4fd" stroke="#1f9de3" stroke-width="3.2"/>
<text x="472.8" y="784" textLength="78" lengthAdjust="spacingAndGlyphs">net long</text>
<rect x="672" y="766" width="20.5" height="20.5" fill="#f6e2e5" stroke="#d0021b" stroke-width="3"/>
<text x="702.3" y="784" textLength="86.3" lengthAdjust="spacingAndGlyphs">net short</text>
<text x="902.6" y="784" font-weight="bold" stroke="#111" stroke-width="0.45" textLength="183.5" lengthAdjust="spacingAndGlyphs">Number of Traders</text>
<line x1="1142.5" y1="776" x2="1162" y2="776" stroke="#1f9de3" stroke-width="3.6"/>
<text x="1172.5" y="784" textLength="78.9" lengthAdjust="spacingAndGlyphs">net long</text>
<line x1="1372" y1="776" x2="1391.4" y2="776" stroke="#d0021b" stroke-width="3.6"/>
<text x="1402.3" y="784" textLength="86.4" lengthAdjust="spacingAndGlyphs">net short</text>
</g>
<line x1="304.7" y1="806.9" x2="304.7" y2="976.8" stroke="#9a9a9a" stroke-width="1.5" stroke-dasharray="3.5 4.5" opacity="0.75"/>
<line x1="564.4" y1="806.9" x2="564.4" y2="976.8" stroke="#9a9a9a" stroke-width="1.5" stroke-dasharray="3.5 4.5" opacity="0.75"/>
<line x1="824.0" y1="806.9" x2="824.0" y2="976.8" stroke="#9a9a9a" stroke-width="1.5" stroke-dasharray="3.5 4.5" opacity="0.75"/>
<line x1="1067.0" y1="806.9" x2="1067.0" y2="976.8" stroke="#9a9a9a" stroke-width="1.5" stroke-dasharray="3.5 4.5" opacity="0.75"/>
<line x1="1326.7" y1="806.9" x2="1326.7" y2="976.8" stroke="#9a9a9a" stroke-width="1.5" stroke-dasharray="3.5 4.5" opacity="0.75"/>
<line x1="1578.0" y1="806.9" x2="1578.0" y2="976.8" stroke="#9a9a9a" stroke-width="1.5" stroke-dasharray="3.5 4.5" opacity="0.75"/>
<line x1="145.4" y1="826.3" x2="1645.4" y2="826.3" stroke="#bfbfbf" stroke-width="2" stroke-dasharray="3.5 4.5" opacity="1"/>
<line x1="145.4" y1="859.1" x2="1645.4" y2="859.1" stroke="#bfbfbf" stroke-width="2" stroke-dasharray="3.5 4.5" opacity="1"/>
<line x1="145.4" y1="891.9" x2="1645.4" y2="891.9" stroke="#bfbfbf" stroke-width="2" stroke-dasharray="3.5 4.5" opacity="1"/>
<line x1="145.4" y1="924.7" x2="1645.4" y2="924.7" stroke="#bfbfbf" stroke-width="2" stroke-dasharray="3.5 4.5" opacity="1"/>
<line x1="145.4" y1="957.5" x2="1645.4" y2="957.5" stroke="#bfbfbf" stroke-width="2" stroke-dasharray="3.5 4.5" opacity="1"/>
<line x1="145.4" y1="976.8" x2="1645.4" y2="976.8" stroke="#b9b9b9" stroke-width="1.7" stroke-dasharray="3.5 4.5" opacity="1"/>
<line x1="1645.4" y1="806.9" x2="1645.4" y2="976.8" stroke="#b4b4b4" stroke-width="1.5" stroke-dasharray="3.5 4.5" opacity="1"/>
<line x1="145.4" y1="806.9" x2="1645.4" y2="806.9" stroke="#8a8a8a" stroke-width="1.9" stroke-dasharray="3.5 4.5" opacity="1"/>
<line x1="145.4" y1="806.9" x2="145.4" y2="976.8" stroke="#8a8a8a" stroke-width="1.9" stroke-dasharray="3.5 4.5" opacity="1"/>
<polyline fill="none" stroke="#d0021b" stroke-width="3.0" stroke-linejoin="round" points="144.7,940.8 153.1,945.3 161.5,930.8 169.8,936.7 178.2,940.3 186.6,923.7 195.0,927 203.3,927 211.7,928.7 220.1,929.5 228.5,891.7 236.8,905.8 245.2,900 253.6,892 262.0,892 270.4,891.3 278.7,890.3 287.1,867.5 295.5,853.3 303.9,857.5 312.2,853.7 320.6,853.7 329.0,876.7 337.4,910 345.7,905.3 354.1,904.7 362.5,908.3 370.9,928.3 379.3,928.3 387.6,927 396.0,930.8 404.4,933.7 412.8,942.5 421.1,930.3 429.5,935.3 437.9,935.3 446.3,935.3 454.6,930.3 463.0,922 471.4,930 479.8,925 488.2,921.7 496.5,921.7 504.9,921.7 513.3,922.2 521.7,909.2 530.0,903.8 538.4,907.5 546.8,907.2 555.2,907.2 563.5,907.2 571.9,905.3 580.3,905.3 588.7,926.7 597.1,908.7 605.4,925.8 613.8,925.8 622.2,922.8 630.6,924.2 638.9,910.3 647.3,922.8 655.7,922.8 664.1,913.7 672.5,913.7 680.8,912 689.2,898.3 697.6,927 706.0,940 714.3,928.3 722.7,928.3 731.1,928.3 739.5,925.8 747.8,918.7 756.2,920.8 764.6,939.2 773.0,933.3 781.4,936.7 789.7,936.7 798.1,936.3 806.5,929.7 814.9,932.5 823.2,933.8 831.6,903.3 840.0,948.8 848.4,948.8 856.7,946.7 865.1,942.5 873.5,923.3 881.9,932.5 890.3,936.2 898.6,955.3 907.0,955.3 915.4,953 923.8,942 932.1,964.2 940.5,961.2 948.9,948.7 957.3,950.8 965.6,950.8 974.0,950.8 982.4,938.3 990.8,923.5 999.2,930 1007.5,941.3 1015.9,931.2 1024.3,931.2 1032.7,931.7 1041.0,936.7 1049.4,935 1057.8,925.8 1066.2,909.2 1074.5,890.5 1082.9,890.5 1091.3,885.8 1099.7,870.5 1108.1,863 1116.4,847.5 1124.8,850 1133.2,861.7 1141.6,862 1149.9,860.3 1158.3,842 1166.7,852.2 1175.1,847.5 1183.4,854.2 1191.8,866.3 1200.2,866.3 1208.6,866.3 1217.0,845.5 1225.3,848.7 1233.7,878.3 1242.1,885.8 1250.5,896.3 1258.8,896.7 1267.2,895 1275.6,881.7 1284.0,885.8 1292.3,870.8 1300.7,863.3 1309.1,862.5 1317.5,862 1325.9,872.2 1334.2,859.2 1342.6,846.7 1351.0,857.8 1359.4,857.8 1367.7,846.2 1376.1,850.3 1384.5,854.7 1392.9,855.8 1401.3,868 1409.6,851.7 1418.0,851.7 1426.4,897 1434.8,897 1443.1,885.8 1451.5,875 1459.9,884.2 1468.3,866.7 1476.6,866.7 1485.0,879.2 1493.4,879.5 1501.8,898.7 1510.2,898.7 1518.5,897.2 1526.9,897.2 1535.3,897.2 1543.7,898 1552.0,898 1560.4,891.7 1568.8,908 1577.2,902.8 1585.5,904.7 1593.9,904.7 1602.3,912 1610.7,912 1619.1,896.2 1627.4,896.2 1635.8,906.2 1644.2,906.7"/>
<polyline fill="none" stroke="#1f9de3" stroke-width="3.0" stroke-linejoin="round" points="144.7,839.2 153.1,835.3 161.5,830.3 169.8,837 178.2,833.7 186.6,846.7 195.0,851.7 203.3,851.7 211.7,853.7 220.1,842.5 228.5,864.2 236.8,855.3 245.2,846.7 253.6,853 262.0,853 270.4,851.3 278.7,843.3 287.1,870 295.5,872 303.9,874.2 312.2,896.7 320.6,896.7 329.0,906.7 337.4,863.3 345.7,858.7 354.1,835.8 362.5,827.5 370.9,843.3 379.3,843.7 387.6,841.7 396.0,838.7 404.4,838 412.8,852 421.1,850 429.5,867.5 437.9,867.5 446.3,862.5 454.6,841.7 463.0,843.7 471.4,837.5 479.8,839.2 488.2,855.3 496.5,855.3 504.9,855.3 513.3,850.8 521.7,848.3 530.0,852.5 538.4,855 546.8,870.3 555.2,870.3 563.5,870.3 571.9,867.5 580.3,858.7 588.7,855.3 597.1,864.2 605.4,880 613.8,880 622.2,877 630.6,857.5 638.9,855 647.3,848.3 655.7,859.7 664.1,870.8 672.5,870.8 680.8,867.5 689.2,850.3 697.6,846.3 706.0,806.2 714.3,810 722.7,837 731.1,837 739.5,835.3 747.8,847.5 756.2,854.2 764.6,837.5 773.0,851.7 781.4,854.7 789.7,854.7 798.1,857.5 806.5,860 814.9,857.5 823.2,870 831.6,884.7 840.0,864.2 848.4,864.2 856.7,860 865.1,852.2 873.5,868.3 881.9,864.7 890.3,867.5 898.6,852.5 907.0,852.5 915.4,850.8 923.8,845.8 932.1,809.2 940.5,809.2 948.9,828.7 957.3,857.5 965.6,857.5 974.0,856.2 982.4,850.3 990.8,865.5 999.2,865 1007.5,858 1015.9,893.3 1024.3,893.3 1032.7,889.2 1041.0,872 1049.4,869.2 1057.8,876.3 1066.2,891.7 1074.5,919.2 1082.9,919.2 1091.3,915.8 1099.7,904.7 1108.1,898.8 1116.4,912.5 1124.8,907.5 1133.2,920.3 1141.6,920.3 1149.9,913 1158.3,903.3 1166.7,912.2 1175.1,903.3 1183.4,899.7 1191.8,900.3 1200.2,900.3 1208.6,896.7 1217.0,902.2 1225.3,903.8 1233.7,908.3 1242.1,898.7 1250.5,900.8 1258.8,901.2 1267.2,897.2 1275.6,887.5 1284.0,885.8 1292.3,896.7 1300.7,912.5 1309.1,911.7 1317.5,910.5 1325.9,898.7 1334.2,900.5 1342.6,902.5 1351.0,897.5 1359.4,897.5 1367.7,917.5 1376.1,914.7 1384.5,889.2 1392.9,878.7 1401.3,875 1409.6,895 1418.0,895 1426.4,888.3 1434.8,871.2 1443.1,873.8 1451.5,875.5 1459.9,877.5 1468.3,881.3 1476.6,881.3 1485.0,890.5 1493.4,886.7 1501.8,847.5 1510.2,847.5 1518.5,860.8 1526.9,865.5 1535.3,865.5 1543.7,869.5 1552.0,869.5 1560.4,868 1568.8,850 1577.2,872.8 1585.5,860.8 1593.9,860.8 1602.3,873.8 1610.7,873.8 1619.1,863 1627.4,863 1635.8,853.3 1644.2,853.3"/>
<g stroke="#8f8f8f" stroke-width="2" fill="none"><line x1="1654" y1="805.9" x2="1654" y2="977.8"/>
<line x1="1654" y1="806.9" x2="1665" y2="806.9"/>
<line x1="1654" y1="826.3" x2="1665" y2="826.3"/>
<line x1="1654" y1="859.1" x2="1665" y2="859.1"/>
<line x1="1654" y1="891.9" x2="1665" y2="891.9"/>
<line x1="1654" y1="924.7" x2="1665" y2="924.7"/>
<line x1="1654" y1="957.5" x2="1665" y2="957.5"/>
<line x1="1654" y1="976.8" x2="1665" y2="976.8"/>
</g>
<g font-family="Liberation Sans, Arial, Helvetica, sans-serif" font-size="23.5" fill="#2a3446" stroke="#2a3446" stroke-width="0.3">
<text x="1671.3" y="834.4" textLength="47.3" lengthAdjust="spacingAndGlyphs">3500</text>
<text x="1671.3" y="867.2" textLength="47.3" lengthAdjust="spacingAndGlyphs">3000</text>
<text x="1671.3" y="900.0" textLength="47.3" lengthAdjust="spacingAndGlyphs">2500</text>
<text x="1671.3" y="932.8" textLength="47.3" lengthAdjust="spacingAndGlyphs">2000</text>
<text x="1671.3" y="965.6" textLength="47.3" lengthAdjust="spacingAndGlyphs">1500</text>
</g>
<g stroke="#8a8a8a" stroke-width="2">
<line x1="304.7" y1="975" x2="304.7" y2="987.6"/>
<line x1="564.4" y1="975" x2="564.4" y2="987.6"/>
<line x1="824.0" y1="975" x2="824.0" y2="987.6"/>
<line x1="1067.0" y1="975" x2="1067.0" y2="987.6"/>
<line x1="1326.7" y1="975" x2="1326.7" y2="987.6"/>
<line x1="1578.0" y1="975" x2="1578.0" y2="987.6"/>
</g>
<g font-family="Liberation Sans, Arial, Helvetica, sans-serif" font-size="23.5" fill="#2a3446" stroke="#2a3446" stroke-width="0.3" text-anchor="end">
<text transform="translate(312.1,998.8) rotate(-90)" textLength="119" lengthAdjust="spacingAndGlyphs">2023-Dec-01</text>
<text transform="translate(571.8,998.8) rotate(-90)" textLength="116.3" lengthAdjust="spacingAndGlyphs">2024-Jan-01</text>
<text transform="translate(831.4,998.8) rotate(-90)" textLength="118" lengthAdjust="spacingAndGlyphs">2024-Feb-01</text>
<text transform="translate(1074.4,998.8) rotate(-90)" textLength="118" lengthAdjust="spacingAndGlyphs">2024-Mar-01</text>
<text transform="translate(1334.1,998.8) rotate(-90)" textLength="118" lengthAdjust="spacingAndGlyphs">2024-Apr-01</text>
<text transform="translate(1585.4,998.8) rotate(-90)" textLength="118" lengthAdjust="spacingAndGlyphs">2024-May-01</text>
</g>
<g font-family="Noto Sans CJK SC, Liberation Sans, sans-serif" fill="#000">
<text x="673.3" y="93.3" font-size="41.7" font-weight="700" textLength="428" lengthAdjust="spacingAndGlyphs">Gold Client Positioning</text>
<text x="753.9" y="155" font-size="29" font-weight="700" textLength="265.3" lengthAdjust="spacingAndGlyphs">IG Client Sentiment</text>
</g>
<g font-family="Liberation Sans, Arial, Helvetica, sans-serif" font-weight="bold">
<text x="1521.5" y="85.6" font-size="40" fill="#4b5567" stroke="#4b5567" stroke-width="1.2" stroke-linejoin="round" textLength="28.2" lengthAdjust="spacingAndGlyphs">D</text>
<text x="1555.5" y="85.6" font-size="40" fill="#4b5567" stroke="#4b5567" stroke-width="1.2" stroke-linejoin="round" textLength="26.4" lengthAdjust="spacingAndGlyphs">A</text>
<text x="1589.6" y="85.6" font-size="40" fill="#4b5567" stroke="#4b5567" stroke-width="1.2" stroke-linejoin="round" textLength="9.6" lengthAdjust="spacingAndGlyphs">I</text>
<text x="1606.2" y="85.6" font-size="40" fill="#4b5567" stroke="#4b5567" stroke-width="1.2" stroke-linejoin="round" textLength="21" lengthAdjust="spacingAndGlyphs">L</text>
<text x="1630.9" y="85.6" font-size="40" fill="#4b5567" stroke="#4b5567" stroke-width="1.2" stroke-linejoin="round" textLength="25" lengthAdjust="spacingAndGlyphs">Y</text>
<text x="1662.4" y="85.6" font-size="40" fill="#ff7400" stroke="#ff7400" stroke-width="1.2" stroke-linejoin="round" textLength="29" lengthAdjust="spacingAndGlyphs">F</text>
<text x="1693.6" y="85.6" font-size="40" fill="#ff7400" stroke="#ff7400" stroke-width="1.2" stroke-linejoin="round" textLength="35" lengthAdjust="spacingAndGlyphs">X</text>
<line x1="1594.4" y1="51.1" x2="1594.4" y2="91.4" stroke="#4b5567" stroke-width="2.5"/>
<text x="1702.8" y="116.4" font-size="27" fill="#e01b22" textLength="25.7" lengthAdjust="spacingAndGlyphs">IG</text>
</g>
<text x="1590.3" y="112.2" font-family="Liberation Sans, Arial, Helvetica, sans-serif" font-size="17.5" fill="#4b5567" textLength="102" lengthAdjust="spacingAndGlyphs">provided by</text>
<g font-family="Noto Sans CJK SC, WenQuanYi Zen Hei, sans-serif" font-weight="900">
<text transform="translate(1551,1155.5) skewX(-15)" font-size="55.5" fill="#ffffff" stroke="#ffffff" stroke-width="1.6" filter="url(#ws)" textLength="252" lengthAdjust="spacingAndGlyphs">海马财经</text>
</g>
<text x="1566" y="1195" font-family="Liberation Sans, Arial, Helvetica, sans-serif" font-weight="bold" font-style="italic" font-size="31" fill="#7cc4ee" stroke="#7cc4ee" stroke-width="1.1" filter="url(#ws2)" textLength="222" lengthAdjust="spacing">zzrt01.cn</text>
</svg></body></html>
